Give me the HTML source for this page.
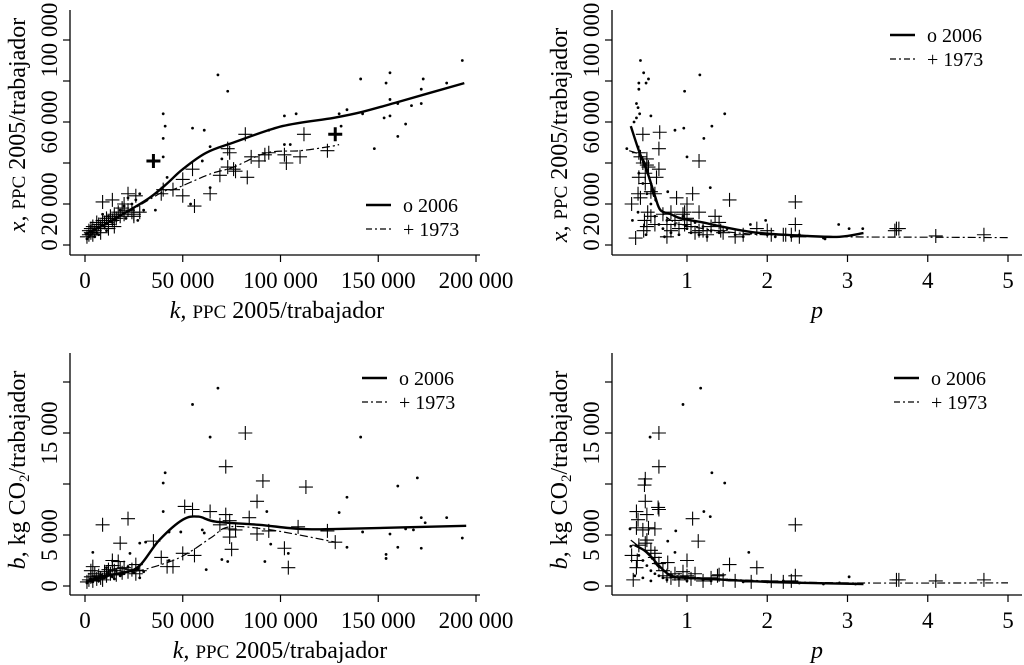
<!DOCTYPE html>
<html><head><meta charset="utf-8">
<style>
html,body{margin:0;padding:0;background:#fff;}
svg{display:block;font-family:"Liberation Serif",serif;}
</style></head>
<body>
<svg id="chart" width="1024" height="665" viewBox="0 0 1024 665" xmlns="http://www.w3.org/2000/svg"></svg>
<script>
// ===== Panel A: x vs k (thousands) =====
const aDotK=[193,156,173,141,154,185,172,156,160,172,167,134,130,142,153,156,164,131,160,148,68,73,102,108,94,40,41,40,55,61,64,102,105,60,40,36,42,64,70,54,1,2,3,4,5,6,8,10,12,14,16,18,20,22,24,26,28,30,5,3,7,11,21,27,9];
const aDotX=[90,84,81,81,79,79,76,71,69,69,68,66,64,64,62,63,59,58,53,47,83,75,63,64,56,64,58,52,57,56,48,49,49,41,43,17,33,28,42,20,3,4,5,6,8,6,10,9,14,11,12,17,19,23,20,22,25,17,4,9,5,7,13,12,15];
const aPlusK=[82,112,124,73,74,94,92,85,89,110,102,103,73,76,77,69,83,55,50,50,56,64,45,39,40,9,14,22,26,20,25,28,1,2,2,3,3,4,4,5,6,7,8,9,10,11,12,13,14,15,16,17,18,19,20,22,24,25,6,8,12,15];
const aPlusX=[54,54,46,47,45,45,44,43,41,43,44,40,38,37,36,34,33,37,32,24,19,25,27,25,27,21,22,25,24,20,15,16,4,5,7,6,8,5,9,7,8,10,9,12,11,13,10,14,12,15,13,16,14,18,15,17,16,14,11,6,8,9];
const aBoldK=[35,128];
const aBoldX=[41,54];
const aLine06K=[0,10,21,33,42,50,62,76,101,127,142,161,194];
const aLine06X=[5,10,16,23,30,37,45,50,58,62,65,70,79];
const aLine73K=[0,20,40,45,55,65,76,93,110,125,130];
const aLine73X=[5,15,26,27,31,35,38,45,46,48,49];

// ===== Panel B: x vs p =====
const bDotP=[0.42,0.46,0.40,0.52,0.49,0.40,1.16,0.97,0.37,0.39,0.37,0.41,0.55,1.47,1.31,0.96,0.85,0.34,1.21,1.0,0.25,1.29,0.76,1.98,2.89,3.02,3.19,1.79,2.7,2.72,0.32,0.39,0.49,0.7,0.75,0.8,0.85,0.9,0.95,1.0,1.05,1.1,1.15,1.2,1.25,1.3,1.4,1.5,1.6,1.7,1.8,2.0,2.1,2.2,2.3,2.4,0.6,0.55,0.5,0.45,0.4,0.65,0.72];
const bDotX=[90,84,79,81,79,76,83,75,69,67,62,64,63,64,58,57,56,60,52,43,47,28,26,12,10,8,8,10,3.4,3,12,16,5,8,12,6,10,5,14,8,6,11,5,9,4,7,6,8,5,4,6,5,4,5,4,5,14,20,25,30,35,10,4];
const bPlusP=[0.36,0.31,0.45,0.66,0.65,1.15,0.65,0.62,0.39,0.42,0.40,0.42,0.4,0.5,0.48,0.55,0.6,0.87,1.07,1.0,1.53,2.35,2.35,1.35,1.15,0.97,0.8,0.51,0.47,0.46,0.75,1.6,1.87,2.0,2.23,3.61,3.64,3.59,4.1,4.7,1.25,1.15,1.42,0.97,0.7,0.75,0.8,0.85,0.9,0.95,1.0,1.05,1.1,1.2,1.3,1.4,1.45,1.7,2.05,2.2,2.3,2.4,0.55,0.5,0.45,0.5,0.52,0.48,0.6];
const bPlusX=[3.4,20,54,55,47,41,37,33,25,23,33,43,45,39,35,26,25,23,25,20,22,21,10,14,16,16,16,16,12,7,4,4,8,7,5,8,8,7,4.4,5,5,7,7,10,15,10,7,12,8,15,13,9,6,7,9,11,6,5,5,5,5,4,14,9,40,42,38,30,10];
const bLine06P=[0.30,0.40,0.51,0.60,0.67,0.80,0.92,1.2,1.43,1.87,2.5,2.9,3.2];
const bLine06X=[58,46,35,24,17,15,13,11,9,6,4.4,4,5.8];
const bLine73P=[0.28,0.40,0.50,0.60,0.80,1.2,1.6,2.0,3.0,4.0,5.0];
const bLine73X=[46,44,38,22,12,8,6,5,4,3.8,3.6];

// ===== Panel C: b vs k (thousands) =====
const cDotK=[68,55,64,141,41,40,170,160,134,40,130,93,185,172,174,60,61,49,43,142,156,168,164,193,160,172,134,95,104,154,154,70,73,92,62,31,28,23,4,43,28,1,2,3,4,5,6,8,10,12,14,16,18,20,22,25,27,30,7,11,15];
const cDotB=[19.4,17.8,14.6,14.6,11.1,10.1,10.6,9.8,8.7,7.3,7.2,7.3,6.7,6.7,6.2,5.5,5.2,5.3,5.3,5.3,5.1,5.5,5.6,4.7,3.8,3.7,3.8,4.1,3.2,3.1,2.7,2.6,2.4,2.4,1.6,4.3,4.2,3.2,3.3,2.5,0.8,0.3,0.5,0.7,0.4,0.9,0.6,1.1,0.8,1.3,0.9,1.5,1.0,1.2,1.9,1.3,1.7,1.4,0.5,1.8,0.7];
const cPlusK=[82,72,91,113,88,51,55,64,72,22,9,84,74,69,74,77,88,94,109,124,128,74,75,102,104,35,18,50,56,39,45,42,4,14,26,1,2,3,4,5,6,7,8,10,11,12,13,14,15,16,18,19,20,22,24,26,28,3,9,17];
const cPlusB=[15.0,11.7,10.3,9.7,8.3,7.8,7.5,7.3,7.0,6.6,6.0,6.7,6.4,6.0,5.6,5.5,5.1,5.4,5.8,5.4,4.3,4.8,3.6,3.7,1.8,4.4,4.2,3.2,3.0,2.8,1.9,1.9,1.9,2.5,2.1,0.4,0.6,0.9,0.5,1.2,0.7,1.0,0.8,1.4,1.0,1.6,1.2,2.0,1.5,1.1,1.7,1.3,1.8,1.4,1.6,1.2,1.5,1.5,0.6,2.4];
const cLine06K=[2,10,20,28,38,50,58,67,89,110,130,195];
const cLine06B=[0.5,1.0,1.3,2.0,4.5,6.5,6.8,6.3,6.0,5.6,5.6,5.9];
const cLine73K=[2,20,30,45,55,65,74,95,128];
const cLine73B=[0.5,1.3,1.6,2.5,3.5,4.8,5.8,5.5,4.3];

// ===== Panel D: b vs p =====
const dDotP=[1.17,0.95,0.54,1.31,1.47,1.21,1.29,0.86,1.77,0.76,0.85,3.02,0.29,0.3,0.4,0.45,0.5,0.55,0.6,0.65,0.7,0.75,0.8,0.9,1.0,1.1,1.2,1.3,1.5,1.7,2.0,2.2,2.4,2.7,2.9,3.1,0.35,0.45,0.55];
const dDotB=[19.4,17.8,14.6,11.1,10.1,7.3,6.8,5.4,3.3,4.4,3.3,0.9,5.6,3.9,3.0,2.5,2.0,1.5,1.2,1.0,0.8,0.6,0.9,0.7,0.5,0.8,0.6,0.5,0.6,0.4,0.4,0.5,0.3,0.2,0.3,0.2,1.0,0.8,0.5];
const dPlusP=[0.65,0.65,0.48,0.47,0.48,0.64,0.65,1.07,2.35,1.14,0.37,0.39,0.37,0.5,0.52,0.6,0.48,0.31,0.6,1.53,1.87,1.0,0.76,0.37,0.33,3.61,3.64,4.1,4.7,2.35,1.38,0.7,0.75,0.8,0.85,0.9,0.95,1.0,1.05,1.1,1.2,1.3,1.4,1.45,1.6,1.8,2.05,2.2,2.3,0.55,0.5,0.45,0.6,0.65,0.4,0.38];
const dPlusB=[15.0,11.7,10.5,9.9,8.3,7.7,7.5,6.6,6.0,4.4,7.3,6.5,5.7,7.0,5.7,5.6,4.2,3.0,3.2,2.1,1.8,2.5,2.3,1.8,0.6,0.6,0.6,0.5,0.6,1.0,1.0,1.5,1.0,0.8,1.2,0.6,1.4,1.0,0.7,1.2,0.5,0.8,1.1,0.6,0.5,0.4,0.5,0.4,0.5,3.5,4.5,5.5,2.8,2.2,4.0,2.5];
const dLine06P=[0.35,0.5,0.65,0.8,1.0,1.5,2.0,2.5,3.2];
const dLine06B=[4.0,3.3,2.0,1.0,0.8,0.6,0.4,0.3,0.2];
const dLine73P=[0.3,0.5,0.7,1.0,2.0,3.0,5.0];
const dLine73B=[4.5,3.2,1.5,0.9,0.5,0.3,0.3];

const svg=document.getElementById('chart');
const NS='http://www.w3.org/2000/svg';
function mk(tag,attrs,parent){const e=document.createElementNS(NS,tag);for(const k in attrs)e.setAttribute(k,attrs[k]);(parent||svg).appendChild(e);return e;}

function smoothPath(pts){
  let d='M'+pts[0][0].toFixed(1)+','+pts[0][1].toFixed(1);
  for(let i=0;i<pts.length-1;i++){
    const p0=pts[Math.max(0,i-1)],p1=pts[i],p2=pts[i+1],p3=pts[Math.min(pts.length-1,i+2)];
    const c1x=p1[0]+(p2[0]-p0[0])/6,c1y=p1[1]+(p2[1]-p0[1])/6;
    const c2x=p2[0]-(p3[0]-p1[0])/6,c2y=p2[1]-(p3[1]-p1[1])/6;
    d+=`C${c1x.toFixed(1)},${c1y.toFixed(1)} ${c2x.toFixed(1)},${c2y.toFixed(1)} ${p2[0].toFixed(1)},${p2[1].toFixed(1)}`;
  }
  return d;
}

function panel(p){
  const g=mk('g',{});
  
  
  const sx=v=>p.x0+(v-p.xv0)*(p.x1-p.x0)/(p.xv1-p.xv0);
  const sy=v=>p.y0+(v-p.yv0)*(p.y1-p.y0)/(p.yv1-p.yv0);
  const ya=mk('line',{x1:p.ax,y1:p.ayTop,x2:p.ax,y2:p.axY,stroke:'#000','stroke-width':1.3},g);
  
  
  const xa=mk('line',{x1:p.ax,y1:p.axY,x2:p.axRight,y2:p.axY,stroke:'#000','stroke-width':1.3},g);
  
  
  p.xticks.forEach((v,i)=>{
    const X=sx(v);
    mk('line',{x1:X,y1:p.axY,x2:X,y2:p.axY+7,stroke:'#000','stroke-width':1.2},g);
    const t=mk('text',{x:X,y:p.axY+33,'font-size':23,'text-anchor':'middle'},g);
    t.textContent=p.xlabels[i];
    
    
  });
  p.yticks.forEach((v,i)=>{
    const Y=sy(v);
    mk('line',{x1:p.ax-7,y1:Y,x2:p.ax,y2:Y,stroke:'#000','stroke-width':1.2},g);
    if(p.ylabels[i]){
      const t=mk('text',{x:0,y:0,'font-size':23,'text-anchor':'middle',transform:`translate(${p.ax-13},${Y}) rotate(-90)`},g);
      t.textContent=p.ylabels[i];
      
      
    }
  });
  const xt=mk('text',{x:p.xtX,y:p.axY+63,'font-size':24,'text-anchor':'middle'},g);
  xt.innerHTML=p.xtitle;
  
  
  const yt=mk('text',{x:0,y:0,'font-size':24,'text-anchor':'middle',transform:`translate(${p.ax-45},${p.ytY}) rotate(-90)`},g);
  yt.innerHTML=p.ytitle;
  
  
  p.dx.forEach((v,i)=>{
    const c=mk('circle',{cx:sx(v),cy:sy(p.dy[i]),r:1.4,fill:'#000'},g);
    
    
  });
  const plus=(v,w,sw,s)=>{
    const X=sx(v),Y=sy(w);
    const pa=mk('path',{d:`M${X-s},${Y}H${X+s}M${X},${Y-s}V${Y+s}`,stroke:'#000','stroke-width':sw,fill:'none'},g);
    
    
  };
  p.px.forEach((v,i)=>plus(v,p.py[i],1.1,7));
  if(p.bx) p.bx.forEach((v,i)=>plus(v,p.by[i],3,7));
  const path=(xs,ys)=>smoothPath(xs.map((v,i)=>[sx(v),sy(ys[i])]));
  const l6=mk('path',{d:path(p.l6x,p.l6y),stroke:'#000','stroke-width':2.4,fill:'none','stroke-linejoin':'round'},g);
  
  
  const l7=mk('path',{d:path(p.l7x,p.l7y),stroke:'#000','stroke-width':1.2,fill:'none','stroke-dasharray':'8 3 2 3'},g);
  
  
  const lg=mk('g',{},g);
  
  
  mk('line',{x1:p.lgX,y1:p.lgY,x2:p.lgX+25,y2:p.lgY,stroke:'#000','stroke-width':2.4},lg);
  mk('line',{x1:p.lgX,y1:p.lgY+24,x2:p.lgX+25,y2:p.lgY+24,stroke:'#000','stroke-width':1.2,'stroke-dasharray':'6 3 2 3'},lg);
  const e1=mk('text',{x:p.lgX+37,y:p.lgY+7,'font-size':20},lg);
  e1.textContent='o 2006';
  
  
  const e2=mk('text',{x:p.lgX+37,y:p.lgY+31,'font-size':20},lg);
  e2.textContent='+ 1973';
  
  
}

const kTitle='<tspan font-style="italic">k,</tspan> <tspan font-size="19">PPC</tspan> 2005/trabajador';
const xTitle='<tspan font-style="italic">x,</tspan> <tspan font-size="19">PPC</tspan> 2005/trabajador';
const bTitle='<tspan font-style="italic">b,</tspan> kg CO<tspan font-size="15" dy="4">2</tspan><tspan dy="-4">/trabajador</tspan>';
const kTicks=[0,50,100,150,200], kLabels=['0','50 000','100 000','150 000','200 000'];
const pTicks=[1,2,3,4,5], pLabels=['1','2','3','4','5'];
const xTicks=[0,20,40,60,80,100], xLabels=['0','20 000','','60 000','','100 000'];
const bTicksV=[0,5,10,15,20], bLabels=['0','5 000','','15 000',''];

panel({name:'panel-x-vs-k',x0:85,x1:476,xv0:0,xv1:200,y0:245,y1:40,yv0:0,yv1:100,ax:70,ayTop:10,axY:255,axRight:480,
  xticks:kTicks,xlabels:kLabels,yticks:xTicks,ylabels:xLabels,xtX:277,ytY:125,xtitle:kTitle,ytitle:xTitle,
  dx:aDotK,dy:aDotX,px:aPlusK,py:aPlusX,bx:aBoldK,by:aBoldX,l6x:aLine06K,l6y:aLine06X,l7x:aLine73K,l7y:aLine73X,lgX:366,lgY:205});
panel({name:'panel-x-vs-p',x0:687,x1:1008,xv0:1,xv1:5,y0:245,y1:40,yv0:0,yv1:100,ax:612,ayTop:10,axY:255,axRight:1022,
  xticks:pTicks,xlabels:pLabels,yticks:xTicks,ylabels:xLabels,xtX:817,ytY:135,xtitle:'<tspan font-style="italic">p</tspan>',ytitle:xTitle,
  dx:bDotP,dy:bDotX,px:bPlusP,py:bPlusX,l6x:bLine06P,l6y:bLine06X,l7x:bLine73P,l7y:bLine73X,lgX:890,lgY:35});
panel({name:'panel-b-vs-k',x0:85,x1:476,xv0:0,xv1:200,y0:586,y1:433,yv0:0,yv1:15,ax:70,ayTop:353,axY:595,axRight:480,
  xticks:kTicks,xlabels:kLabels,yticks:bTicksV,ylabels:bLabels,xtX:280,ytY:470,xtitle:kTitle,ytitle:bTitle,
  dx:cDotK,dy:cDotB,px:cPlusK,py:cPlusB,l6x:cLine06K,l6y:cLine06B,l7x:cLine73K,l7y:cLine73B,lgX:362,lgY:378});
panel({name:'panel-b-vs-p',x0:687,x1:1008,xv0:1,xv1:5,y0:586,y1:433,yv0:0,yv1:15,ax:612,ayTop:353,axY:595,axRight:1022,
  xticks:pTicks,xlabels:pLabels,yticks:bTicksV,ylabels:bLabels,xtX:817,ytY:470,xtitle:'<tspan font-style="italic">p</tspan>',ytitle:bTitle,
  dx:dDotP,dy:dDotB,px:dPlusP,py:dPlusB,l6x:dLine06P,l6y:dLine06B,l7x:dLine73P,l7y:dLine73B,lgX:894,lgY:378});
</script>
</body></html>
